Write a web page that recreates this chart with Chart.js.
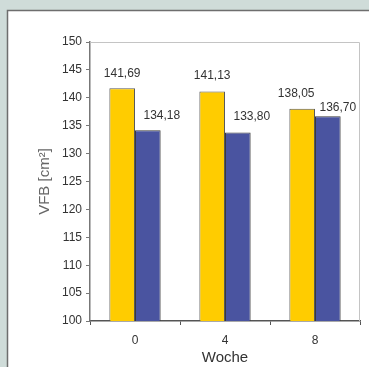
<!DOCTYPE html>
<html>
<head>
<meta charset="utf-8">
<script src="https://cdn.jsdelivr.net/npm/chart.js@4/dist/chart.umd.min.js"></script>
<style>
  body { margin: 0; background: #cfdcd9; }
  canvas { display: block; }
</style>
</head>
<body>
<canvas id="chart" width="369" height="367"></canvas>
<script>
// values
const weeks = ["0", "4", "8"];
const seriesYellow = [141.69, 141.13, 138.05];
const seriesBlue = [134.18, 133.80, 136.70];
const yTicks = { min: 100, max: 150, step: 5 };

const fontFam = "'Liberation Sans', Arial, sans-serif";

// white panel behind the chart + light frame top/right of plot
const panel = {
  id: "panel",
  beforeDraw(chart) {
    const ctx = chart.ctx;
    ctx.save();
    ctx.fillStyle = "#ffffff";
    ctx.fillRect(7, 10, chart.width - 7, chart.height - 10);
    ctx.strokeStyle = "#6e6e6e";
    ctx.lineWidth = 1.5;
    ctx.beginPath();
    ctx.moveTo(7.5, chart.height);
    ctx.lineTo(7.5, 10.5);
    ctx.lineTo(chart.width, 10.5);
    ctx.stroke();
    ctx.restore();
  },
  afterDraw(chart) {
    const a = chart.chartArea;
    const ctx = chart.ctx;
    ctx.save();
    ctx.strokeStyle = "#c4c4c4";
    ctx.lineWidth = 1;
    ctx.beginPath();
    ctx.moveTo(a.left, a.top + 0.5);
    ctx.lineTo(a.right - 0.5, a.top + 0.5);
    ctx.lineTo(a.right - 0.5, a.bottom);
    ctx.stroke();
    ctx.restore();
  }
};

// value labels above bars, comma decimals like the original
const valueLabels = {
  id: "valueLabels",
  afterDatasetsDraw(chart, args, opts) {
    const ctx = chart.ctx;
    ctx.save();
    ctx.font = "12px " + fontFam;
    ctx.fillStyle = "#333333";
    ctx.textAlign = "center";
    ctx.textBaseline = "middle";
    chart.data.datasets.forEach((ds, i) => {
      const meta = chart.getDatasetMeta(i);
      meta.data.forEach((bar, j) => {
        const txt = ds.data[j].toFixed(2).replace(".", ",");
        const dx = opts.dx[i][j];
        const dy = opts.dy[i][j];
        ctx.fillText(txt, bar.x + dx, bar.y - dy);
      });
    });
    ctx.restore();
  }
};

new Chart(document.getElementById("chart"), {
  type: "bar",
  data: {
    labels: weeks,
    datasets: [
      {
        data: seriesYellow,
        backgroundColor: "#ffcc00",
        borderColor: "#5a5a5a",
        borderWidth: 1
      },
      {
        data: seriesBlue,
        backgroundColor: "#4a54a0",
        borderColor: "#3a3a3a",
        borderWidth: 1
      }
    ]
  },
  options: {
    responsive: false,
    animation: false,
    categoryPercentage: 0.57,
    barPercentage: 1,
    layout: { padding: { left: 36, top: 42, right: 9, bottom: 0 } },
    plugins: {
      legend: { display: false },
      tooltip: { enabled: false },
      valueLabels: {
        dx: [[0, 0, -6], [14, 14, 10]],
        dy: [[15, 16, 15], [15, 16, 9]]
      }
    },
    scales: {
      x: {
        afterFit: s => { s.height = 46; },
        grid: { offset: true, drawOnChartArea: false, tickLength: 4, color: "#555555" },
        border: { color: "#555555", width: 1.5 },
        ticks: { color: "#333333", font: { family: fontFam, size: 12 }, padding: 8 },
        title: {
          display: true,
          text: "Woche",
          color: "#333333",
          font: { family: fontFam, size: 15 },
          padding: { top: 0, bottom: 0 }
        }
      },
      y: {
        min: yTicks.min,
        max: yTicks.max,
        afterFit: s => { s.width = 54; },
        grid: { drawOnChartArea: false, tickLength: 4, color: "#777777" },
        border: { color: "#777777", width: 1.5 },
        ticks: {
          stepSize: yTicks.step,
          color: "#333333",
          font: { family: fontFam, size: 12 },
          padding: 4
        },
        title: {
          display: true,
          text: "VFB [cm²]",
          color: "#666666",
          font: { family: fontFam, size: 15 },
          padding: { top: 0, bottom: 0 }
        }
      }
    }
  },
  plugins: [panel, valueLabels]
});
</script>
</body>
</html>
